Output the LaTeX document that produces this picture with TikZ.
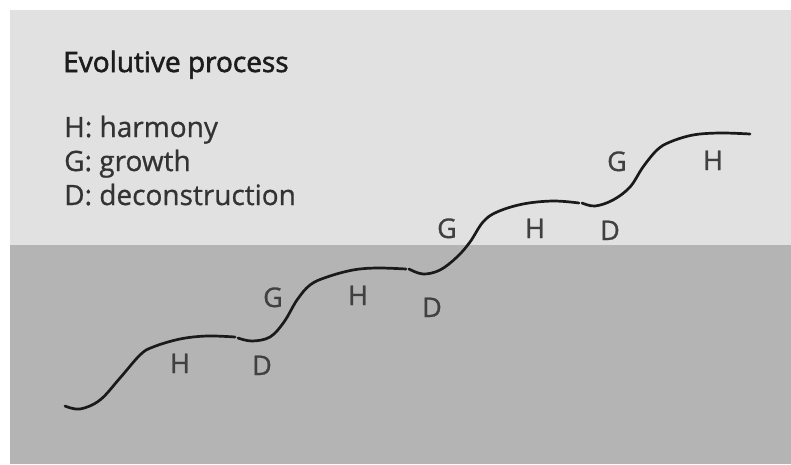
\documentclass[tikz,border=0pt]{standalone}
\usepackage{fontspec}
\setmainfont{Open Sans}
\begin{document}
\begin{tikzpicture}[x=1pt,y=-1pt,
  upper/.style={fill=skyband,draw=none},
  lower/.style={fill=groundband,draw=none},
  titletext/.style={anchor=base west,inner sep=0pt,text=titlegray,font=\fontsize{28}{30}\selectfont\addfontfeatures{FakeBold=2}},
  legendtext/.style={anchor=base west,inner sep=0pt,text=legendgray,font=\fontsize{28}{30}\selectfont\addfontfeatures{FakeBold=0.8}},
  phase/.style={anchor=base,inner sep=0pt,text=phasegray,font=\fontsize{27}{30}\selectfont\addfontfeatures{FakeBold=1}},
  path/.style={line width=2.7pt,draw=curvegray,line cap=round}]
\definecolor{skyband}{HTML}{E1E1E1}
\definecolor{groundband}{HTML}{B4B4B4}
\definecolor{titlegray}{HTML}{1C1C1C}
\definecolor{legendgray}{HTML}{333333}
\definecolor{phasegray}{HTML}{404040}
\definecolor{curvegray}{HTML}{1A1A1A}
\useasboundingbox (0,0) rectangle (791,464);
\fill[white] (0,0) rectangle (791,464);
% two bands
\fill[upper] (10,10) rectangle (791,245);
\fill[lower] (10,245) rectangle (791,464);
% headings
\node[titletext] (title) at (63,72) {Evolutive process};
\node[legendtext] (lh) at (64,137) {H: harmony};
\node[legendtext] (lg) at (64,171) {G: growth};
\node[legendtext] (ld) at (64,205) {D: deconstruction};
% the stepped curve, drawn in four pieces
\draw[path] plot[smooth,tension=0.6] coordinates {(65,406) (80,409) (100,400) (120,378) (140,355) (153,347) (180,339) (207,336) (235,337)};
\draw[path] plot[smooth,tension=0.6] coordinates {(238,338) (252,341) (270,337) (284,322) (297,300) (310,285) (327,277) (353,270) (377,268) (406,269)};
\draw[path] plot[smooth,tension=0.6] coordinates {(409,269) (423,274) (440,270) (457,257) (470,242) (483,222) (497,212) (523,204) (553,201) (579,203)};
\draw[path] plot[smooth,tension=0.6] coordinates {(582,203) (595,206) (613,200) (630,187) (643,167) (657,150) (670,142) (693,135) (720,133) (750,134)};
% phase letters
\node[phase] (h1) at (180,373) {H};
\node[phase] (d1) at (262,375) {D};
\node[phase] (g1) at (273,307) {G};
\node[phase] (h2) at (358,305) {H};
\node[phase] (d2) at (432,317) {D};
\node[phase] (g2) at (447,238) {G};
\node[phase] (h3) at (535,238) {H};
\node[phase] (d3) at (610,240) {D};
\node[phase] (g3) at (617,171) {G};
\node[phase] (h4) at (713,170) {H};
\end{tikzpicture}
\end{document}
